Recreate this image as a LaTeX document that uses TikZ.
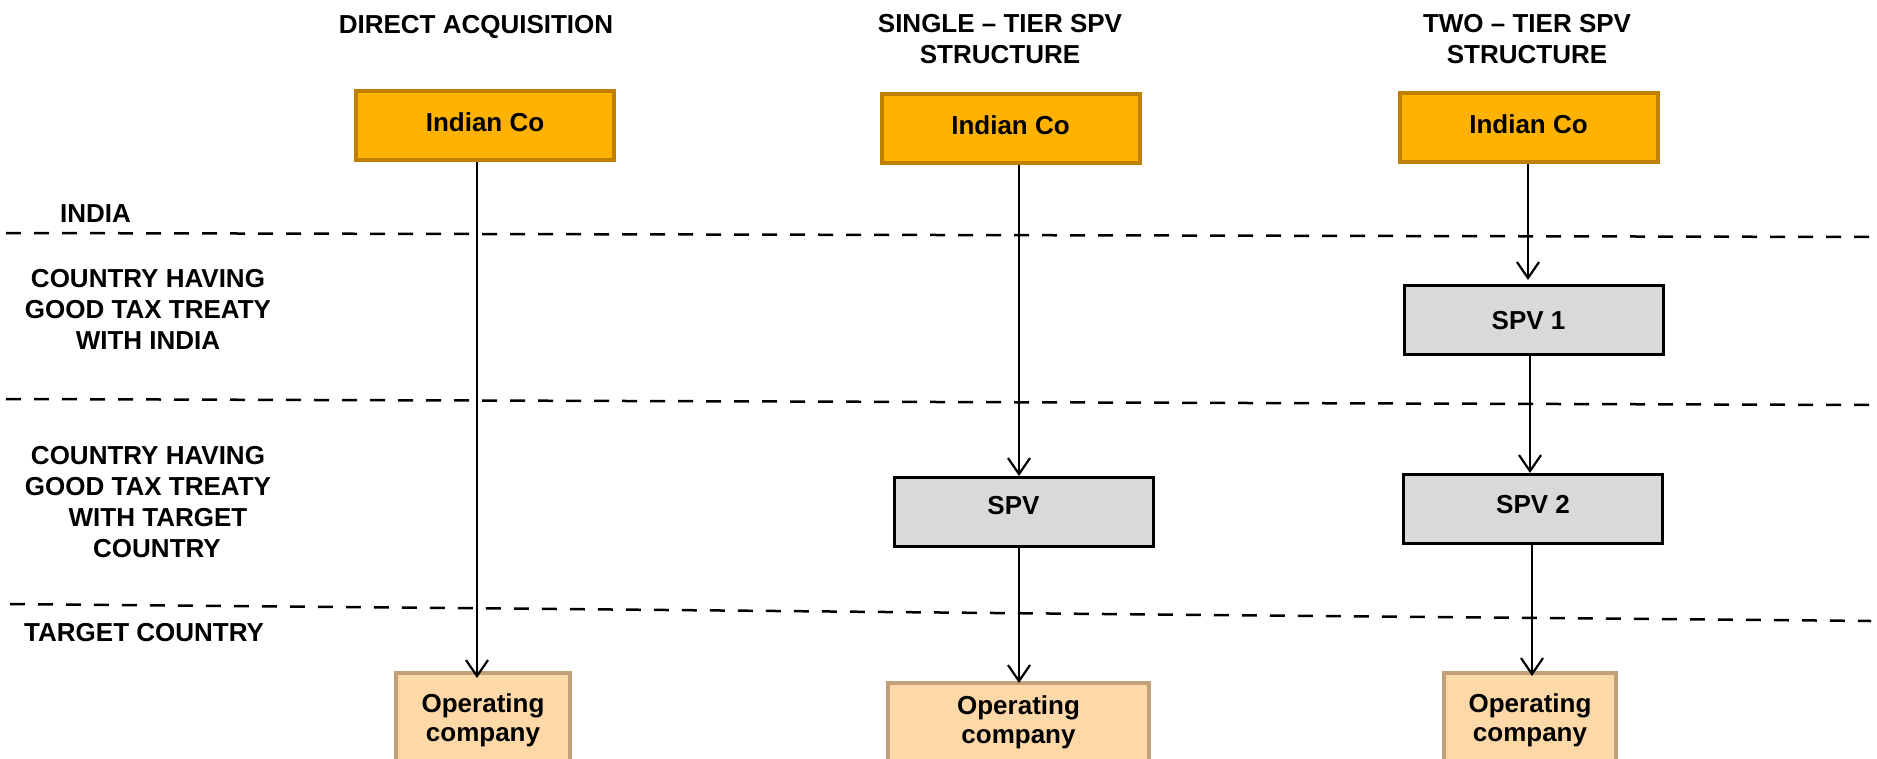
\documentclass[tikz,border=0pt]{standalone}
\usepackage{fontspec}
\setmainfont{Liberation Sans}
\usetikzlibrary{arrows.meta}

\definecolor{icfill}{RGB}{255,179,0}
\definecolor{icdraw}{RGB}{191,128,0}
\definecolor{opfill}{RGB}{255,216,168}
\definecolor{opdraw}{RGB}{193,160,122}
\definecolor{spvfill}{RGB}{217,217,217}

\begin{document}
\begin{tikzpicture}[x=1pt,y=-1pt,
  txt/.style={font=\fontsize{26}{31}\selectfont\bfseries, inner sep=0pt},
  indianbox/.style={draw=icdraw, fill=icfill, line width=4pt,
    font=\fontsize{26}{31}\selectfont\bfseries,
    text height=19pt, text depth=7pt,
    minimum width=258pt, minimum height=69pt, inner sep=0pt},
  spvbox/.style={draw=black, fill=spvfill, line width=3pt,
    font=\fontsize{26}{31}\selectfont\bfseries,
    text height=19pt, text depth=0pt,
    minimum width=259pt, minimum height=69pt, inner sep=0pt},
  opbox/.style={draw=opdraw, fill=opfill, line width=4pt, align=center,
    font=\fontsize{26}{29}\selectfont\bfseries,
    minimum height=94pt, inner sep=0pt},
  divider/.style={line width=2.5pt, dash pattern=on 15pt off 13pt},
  flow/.style={line width=2.2pt, -{Straight Barb[length=16pt,width=22pt,line width=2.2pt]}}
]
\useasboundingbox (0,0) rectangle (1877,758);
\clip (0,0) rectangle (1877,758);

% column headings
\node[txt, anchor=base] (head1) at (476,33) {DIRECT ACQUISITION};
\node[txt, align=center, anchor=north] (head2) at (1000,14) {SINGLE – TIER SPV\\STRUCTURE};
\node[txt, align=center, anchor=north] (head3) at (1527,14) {TWO – TIER SPV\\STRUCTURE};

% jurisdiction labels
\node[txt, anchor=base west] (lIndia) at (60,222) {INDIA};
\node[txt, align=center, anchor=north] (lTreatyIndia) at (148,269)
  {COUNTRY HAVING\\GOOD TAX TREATY\\WITH INDIA};
\node[txt, align=center, anchor=north] (lTreatyTarget) at (148,446)
  {COUNTRY HAVING\\GOOD TAX TREATY\\\hspace*{20pt}WITH TARGET\\\hspace*{18pt}COUNTRY};
\node[txt, anchor=base west] (lTarget) at (24,641) {TARGET COUNTRY};

% jurisdiction boundaries
\coordinate (d1a) at (6,233);   \coordinate (d1b) at (1871,237);
\coordinate (d2a) at (6,399);   \coordinate (d2b) at (1871,405);
\coordinate (d3a) at (10,604);  \coordinate (d3b) at (1871,621);
\draw[divider] (d1a) -- (d1b);
\draw[divider] (d2a) -- (d2b);
\draw[divider] (d3a) -- (d3b);

% direct acquisition
\node[indianbox] (ic1) at (485,125.5) {Indian Co};
\node[opbox, minimum width=174pt] (op1) at (483,720) {Operating\\company};

% single-tier SPV
\node[indianbox] (ic2) at (1010.5,128) {Indian Co};
\node[spvbox, text depth=14pt] (spv) at (1023.5,512) {SPV\rule{20pt}{0pt}};
\node[opbox, minimum width=261pt, minimum height=78pt] (op2) at (1018.5,722) {Operating\\company};

% two-tier SPV
\node[indianbox] (ic3) at (1528.5,127) {Indian Co};
\node[spvbox] (spv1) at (1533.5,320) {SPV 1\rule{10pt}{0pt}};
\node[spvbox, text depth=10pt] (spv2) at (1533,509) {SPV 2};
\node[opbox, minimum width=172pt] (op3) at (1530,720) {Operating\\company};

% ownership flows
\coordinate (x1) at (477,0);
\coordinate (x2) at (1019,0);
\coordinate (x3a) at (1528,0);
\coordinate (x3b) at (1530,0);
\coordinate (x3c) at (1532,0);
\draw[flow, shorten >=-7pt] (ic1.south -| x1) -- (op1.north -| x1);
\draw[flow] (ic2.south -| x2) -- (spv.north -| x2);
\draw[flow, shorten >=-2pt] (spv.south -| x2) -- (op2.north -| x2);
\draw[flow, shorten >=4pt] (ic3.south -| x3a) -- (spv1.north -| x3a);
\draw[flow] (spv1.south -| x3b) -- (spv2.north -| x3b);
\draw[flow, shorten >=-5pt] (spv2.south -| x3c) -- (op3.north -| x3c);
\end{tikzpicture}
\end{document}
